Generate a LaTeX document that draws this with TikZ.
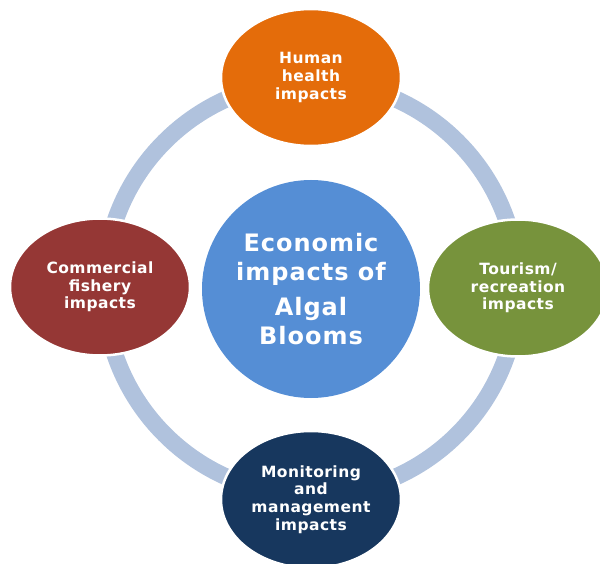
\documentclass[tikz,border=0pt]{standalone}
\usepackage{fontspec}
\setmainfont{DejaVu Sans}
\newfontfamily\labelfont[LetterSpace=3]{DejaVu Sans}
\newfontfamily\hubfont[LetterSpace=4]{DejaVu Sans}
\definecolor{ringblue}{HTML}{B0C2DD}
\definecolor{hborange}{HTML}{E46C0A}
\definecolor{hbred}{HTML}{953735}
\definecolor{hbgreen}{HTML}{77933C}
\definecolor{hbnavy}{HTML}{17375E}
\definecolor{hbblue}{HTML}{558ED5}
\usetikzlibrary{shapes.geometric}
\tikzset{
  impact/.style={ellipse, draw=white, line width=2.5pt, minimum width=180pt,
    minimum height=137pt, inner sep=0pt, text=white, align=center,
    font=\labelfont\fontsize{15.5pt}{17.6pt}\selectfont\bfseries},
  hub/.style={circle, fill=hbblue, minimum size=218pt, inner sep=0pt,
    text=white, align=center,
    font=\hubfont\fontsize{24pt}{29.5pt}\selectfont\bfseries},
  ringline/.style={draw=ringblue, line width=17pt}
}
\begin{document}
\begin{tikzpicture}[x=1pt,y=-1pt]
  \useasboundingbox (0,0) rectangle (600,564);
  \clip (0,0) rectangle (600,564);
  % connecting ring behind the impact ellipses
  \coordinate (c) at (311,288);
  \draw[ringline] (c) circle[radius=207];
  % central hub
  \node[hub] (hub) at (311,289) {Economic\\impacts of\\[5pt]Algal\\Blooms};
  % surrounding impact areas
  \node[impact, fill=hborange] (health) at (311,77.5) {Human\\health\\impacts};
  \node[impact, fill=hbred] (fishery) at (100,287) {Commercial\\fishery\\impacts};
  \node[impact, fill=hbgreen] (tourism) at (518,288) {Tourism/\\recreation\\impacts};
  \node[impact, fill=hbnavy] (monitor) at (311,499.5) {Monitoring\\and\\management\\impacts};
\end{tikzpicture}
\end{document}
